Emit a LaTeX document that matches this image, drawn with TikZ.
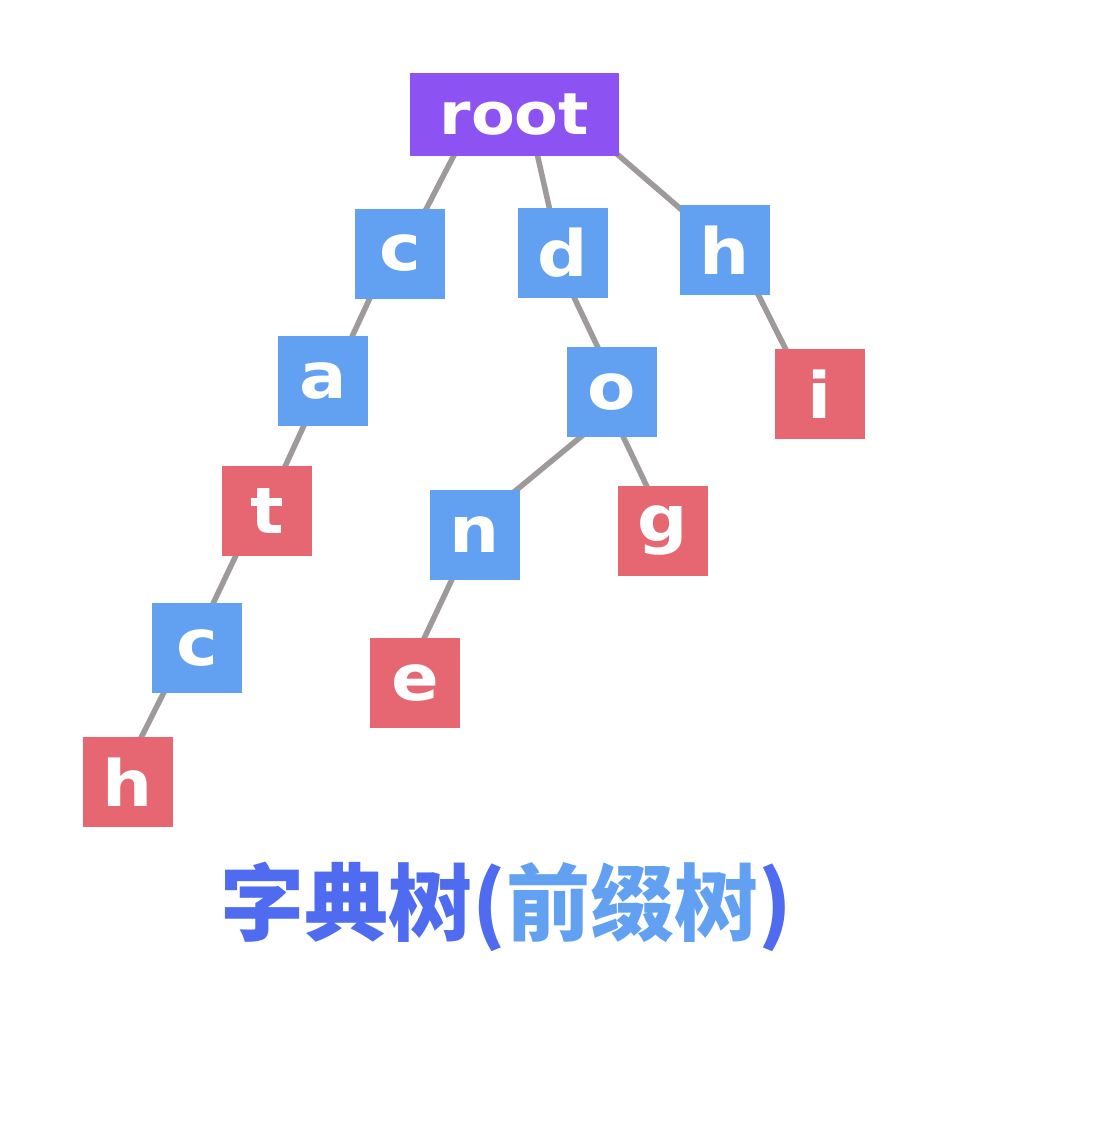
\documentclass[tikz,border=0pt]{standalone}
\usepackage{fontspec}
\usetikzlibrary{backgrounds}
\newfontfamily\letterfont[FakeStretch=1.1]{DejaVu Sans}
\newfontfamily\cjk{Noto Sans CJK SC}
\definecolor{rootpurple}{HTML}{8C52F2}
\definecolor{nodeblue}{HTML}{62A0F2}
\definecolor{nodered}{HTML}{E66671}
\definecolor{edgegray}{HTML}{9E9A9A}
\definecolor{titledark}{HTML}{4F6BF0}
\definecolor{titlelight}{HTML}{62A0F2}
\begin{document}
\begin{tikzpicture}[x=1pt,y=-1pt,
  box/.style={minimum width=90pt,minimum height=90pt,inner sep=0pt,text=white,
    font=\letterfont\bfseries\fontsize{64}{64}\selectfont},
  inner/.style={box,fill=nodeblue},
  leaf/.style={box,fill=nodered},
  edge/.style={draw=edgegray,line width=5.5pt}]
\useasboundingbox (0,0) rectangle (1108,1130);
\node[box,fill=rootpurple,minimum width=209pt,minimum height=83pt,
  font=\letterfont\bfseries\fontsize{58}{58}\selectfont] (root) at (514.5,114.5) {root};
\node[inner] (c) at (400,253.5) {c};
\node[inner] (d) at (562.5,253) {d};
\node[inner] (h) at (725,250) {h};
\node[inner] (a) at (323,381) {a};
\node[inner] (o) at (612,392) {o};
\node[leaf] (i) at (820,394) {i};
\node[leaf] (t) at (267,511) {t};
\node[inner] (n) at (475,535) {n};
\node[leaf] (g) at (663,531) {g};
\node[inner] (c2) at (197,648) {c};
\node[leaf] (e) at (415,683) {e};
\node[leaf] (h2) at (128,782) {h};
\begin{scope}[on background layer]
\fill[white] (0,0) rectangle (1108,1130);
\draw[edge] ([xshift=-59.5pt,yshift=3pt]root.south) -- ([xshift=25pt,yshift=-3pt]c.north);
\draw[edge] ([xshift=22.5pt,yshift=3pt]root.south) -- ([xshift=-12.5pt,yshift=-3pt]d.north);
\draw[edge] ([xshift=101.5pt,yshift=3pt]root.south) -- ([xshift=3pt,yshift=-6pt]h.north west);
\draw[edge] ([xshift=-29pt,yshift=3pt]c.south) -- ([xshift=28pt,yshift=-3pt]a.north);
\draw[edge] ([xshift=10.5pt,yshift=3pt]d.south) -- ([xshift=-13pt,yshift=-3pt]o.north);
\draw[edge] ([xshift=32pt,yshift=3pt]h.south) -- ([xshift=-33pt,yshift=-3pt]i.north);
\draw[edge] ([xshift=-18pt,yshift=3pt]a.south) -- ([xshift=17pt,yshift=-3pt]t.north);
\draw[edge] ([xshift=-28pt,yshift=3pt]o.south) -- ([xshift=38pt,yshift=-3pt]n.north);
\draw[edge] ([xshift=10pt,yshift=3pt]o.south) -- ([xshift=-15pt,yshift=-3pt]g.north);
\draw[edge] ([xshift=-30pt,yshift=3pt]t.south) -- ([xshift=15pt,yshift=-3pt]c2.north);
\draw[edge] ([xshift=-22pt,yshift=3pt]n.south) -- ([xshift=8pt,yshift=-3pt]e.north);
\draw[edge] ([xshift=-32pt,yshift=3pt]c2.south) -- ([xshift=12pt,yshift=-3pt]h2.north);
\end{scope}
\node[inner sep=0pt,font=\cjk\bfseries\fontsize{84}{84}\selectfont] (title) at (506,907)
  {\textcolor{titledark}{字典树(}\textcolor{titlelight}{前缀树}\textcolor{titledark}{)}};
\end{tikzpicture}
\end{document}
